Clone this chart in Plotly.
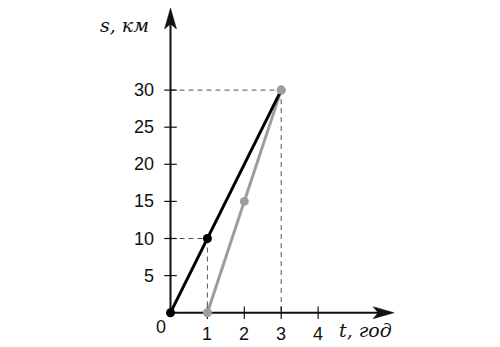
import plotly.graph_objects as go

# ---- data ----
t_black = [0, 1, 3]
s_black = [0, 10, 30]
t_black_pts = [0, 1]
s_black_pts = [0, 10]

t_grey = [1, 2, 3]
s_grey = [0, 15, 30]

x_ticks = [1, 2, 3, 4]
y_ticks = [5, 10, 15, 20, 25, 30]
x_title = "t, год"
y_title = "s, км"

# ---- scale (pixels per unit) ----
W, H = 500, 347
PX_X = 36.9
PX_Y = 7.42
ORIG_X = 170.5   # pixel of t=0
ORIG_Y = 312.7   # pixel of s=0 (from top)
x_range = [-ORIG_X / PX_X, (W - ORIG_X) / PX_X]
y_range = [-(H - ORIG_Y) / PX_Y, ORIG_Y / PX_Y]
dx = 1 / PX_X
dy = 1 / PX_Y

x_tip = 6.06
y_tip = 41.06

AX = "#111111"
GREY = "#9d9d9d"
DASH = "#555555"

fig = go.Figure()

shapes = []
# dashed guide lines
for (t, s) in [(3, 30), (1, 10)]:
    shapes.append(dict(type="line", x0=0, y0=s, x1=t, y1=s, line=dict(color=DASH, width=1, dash="5px,4px")))
    shapes.append(dict(type="line", x0=t, y0=s, x1=t, y1=0, line=dict(color=DASH, width=1, dash="5px,4px")))
# axes
shapes.append(dict(type="line", x0=0, y0=0, x1=x_tip - 10 * dx, y1=0, line=dict(color=AX, width=2)))
shapes.append(dict(type="line", x0=0, y0=0, x1=0, y1=y_tip - 10 * dy, line=dict(color=AX, width=2)))
# arrowheads
L, Hw, N = 21, 6, 5
xa = (f"M {x_tip},0 L {x_tip - L*dx},{Hw*dy} L {x_tip - (L-N)*dx},0 "
      f"L {x_tip - L*dx},{-Hw*dy} Z")
ya = (f"M 0,{y_tip} L {Hw*dx},{y_tip - L*dy} L 0,{y_tip - (L-N)*dy} "
      f"L {-Hw*dx},{y_tip - L*dy} Z")
shapes.append(dict(type="path", path=xa, fillcolor=AX, line=dict(color=AX, width=0.5)))
shapes.append(dict(type="path", path=ya, fillcolor=AX, line=dict(color=AX, width=0.5)))

# tick marks
fig.add_trace(go.Scatter(x=x_ticks, y=[0]*len(x_ticks), mode="markers",
                         marker=dict(symbol="line-ns", size=9, line=dict(color=AX, width=1.2)),
                         hoverinfo="skip", showlegend=False))
fig.add_trace(go.Scatter(x=[0]*len(y_ticks), y=y_ticks, mode="markers",
                         marker=dict(symbol="line-ew", size=9, line=dict(color=AX, width=1.2)),
                         hoverinfo="skip", showlegend=False))

# data lines
fig.add_trace(go.Scatter(x=t_grey, y=s_grey, mode="lines+markers",
                         line=dict(color=GREY, width=3),
                         marker=dict(color=GREY, size=9), cliponaxis=False, showlegend=False))
fig.add_trace(go.Scatter(x=t_black, y=s_black, mode="lines",
                         line=dict(color="#000000", width=3), cliponaxis=False, showlegend=False))
fig.add_trace(go.Scatter(x=t_black_pts, y=s_black_pts, mode="markers",
                         marker=dict(color="#000000", size=9), cliponaxis=False, showlegend=False))
# redraw grey end point on top
fig.add_trace(go.Scatter(x=[t_grey[-1]], y=[s_grey[-1]], mode="markers",
                         marker=dict(color=GREY, size=9), showlegend=False))

ann = []
font_num = dict(family="Liberation Sans, Arial, sans-serif", size=18, color="#111111")
font_it = dict(family="DejaVu Serif, serif", size=19, color="#111111")
for v in y_ticks:
    ann.append(dict(x=-15 * dx, y=v, text=str(v), showarrow=False, xanchor="right",
                    yanchor="middle", font=font_num))
for v in x_ticks:
    ann.append(dict(x=v, y=-21.5 * dy, text=str(v), showarrow=False, xanchor="center",
                    yanchor="middle", font=font_num))
ann.append(dict(x=-10 * dx, y=-14.5 * dy, text="0", showarrow=False, xanchor="center",
                yanchor="middle", font=font_num))
ann.append(dict(x=-20 * dx, y=(ORIG_Y - 25) * dy, text=f"<i>{y_title}</i>", showarrow=False,
                xanchor="right", yanchor="middle", font=font_it))
ann.append(dict(x=(337 - ORIG_X) * dx, y=-(330 - ORIG_Y) * dy, text=f"<i>{x_title}</i>",
                showarrow=False, xanchor="left", yanchor="middle", font=font_it))

fig.update_layout(
    width=W, height=H,
    margin=dict(l=0, r=0, t=0, b=0),
    paper_bgcolor="white", plot_bgcolor="white",
    xaxis=dict(range=x_range, visible=False, fixedrange=True),
    yaxis=dict(range=y_range, visible=False, fixedrange=True),
    shapes=shapes, annotations=ann, showlegend=False,
)
for s in fig.layout.shapes:
    s.layer = "below"

fig.write_html("out.html")
